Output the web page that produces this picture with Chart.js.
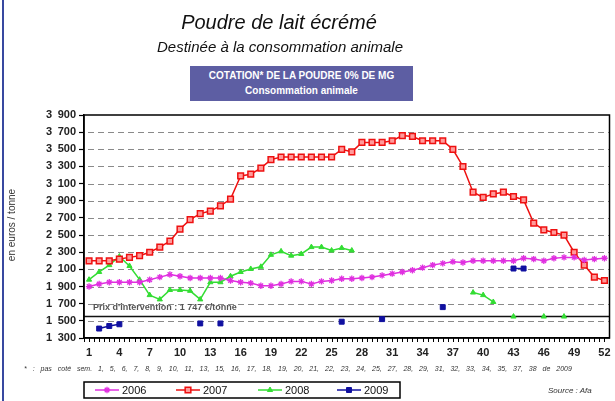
<!DOCTYPE html>
<html><head><meta charset="utf-8">
<script src="https://cdn.jsdelivr.net/npm/chart.js@4.4.1/dist/chart.umd.min.js"></script>
<style>
html,body{margin:0;padding:0;background:#fff;width:615px;height:401px;overflow:hidden;font-family:"Liberation Sans",Arial,sans-serif;}
#wrap{position:relative;width:615px;height:401px;}
#c{position:absolute;left:0;top:0;}
.t{position:absolute;white-space:nowrap;color:#111;}
#lb{position:absolute;left:2px;top:0;width:2px;height:401px;background:#3848a0;}
#box{position:absolute;left:190px;top:66px;width:223px;height:35px;background:#5d5ea3;color:#fff;font:bold 10px "Liberation Sans",Arial,sans-serif;text-align:center;line-height:15px;padding-top:2px;box-sizing:border-box;}
</style></head><body>
<div id="wrap">
<div id="lb"></div>
<canvas id="c" width="615" height="401"></canvas>
<div class="t" style="left:0;width:558px;text-align:center;top:10px;font:italic 20px 'Liberation Sans',Arial,sans-serif;line-height:24px;">Poudre de lait écrémé</div>
<div class="t" style="left:0;width:560px;text-align:center;top:38px;font:italic 15px 'Liberation Sans',Arial,sans-serif;line-height:18px;">Destinée à la consommation animale</div>
<div id="box">COTATION* DE LA POUDRE 0% DE MG<br>Consommation animale</div>
<div class="t" style="left:-68px;top:219px;width:160px;text-align:center;transform:rotate(-90deg);font:10px 'Liberation Sans',Arial,sans-serif;line-height:12px;color:#333;">en euros / tonne</div>
<div class="t" style="left:24px;top:364px;font:italic 7px 'Liberation Sans',Arial,sans-serif;line-height:9px;word-spacing:4px;color:#333;">* : pas coté sem. 1, 5, 6, 7, 8, 9, 10, 11, 13, 15, 16, 17, 18, 19, 20, 21, 22, 23, 24, 25, 27, 28, 29, 31, 32, 33, 34, 35, 37, 38 de 2009</div>
<div class="t" style="left:548px;top:386px;font:italic 8px 'Liberation Sans',Arial,sans-serif;line-height:10px;color:#333;">Source : Afa</div>
</div>
<script>
const weeks = [1,2,3,4,5,6,7,8,9,10,11,12,13,14,15,16,17,18,19,20,21,22,23,24,25,26,27,28,29,30,31,32,33,34,35,36,37,38,39,40,41,42,43,44,45,46,47,48,49,50,51,52];
const shownWeeks = [1,4,7,10,13,16,19,22,25,28,31,34,37,40,43,46,49,52];
const y2006 = [1900,1930,1950,1950,1950,1950,1980,2010,2040,2020,2000,2000,2000,2000,1970,1950,1940,1910,1910,1930,1960,1960,1930,1960,1970,1990,1990,2000,2010,2030,2050,2070,2090,2120,2150,2170,2190,2180,2200,2200,2200,2200,2200,2230,2220,2200,2230,2240,2240,2210,2220,2230];
const y2007 = [2200,2200,2200,2220,2240,2260,2300,2360,2430,2570,2680,2750,2780,2840,2920,3190,3210,3280,3380,3410,3410,3410,3410,3410,3410,3500,3470,3580,3580,3580,3600,3660,3650,3600,3600,3600,3500,3300,3000,2940,2980,3000,2950,2910,2640,2560,2530,2500,2300,2150,2010,1970];
const y2008 = [1980,2070,2150,2250,2140,1980,1800,1750,1860,1860,1850,1750,1950,1950,2020,2070,2105,2130,2270,2310,2260,2280,2360,2360,2320,2350,2320,null,null,null,null,null,null,null,null,null,null,null,1830,1800,1720,null,1550,null,null,1550,null,1550,null,null,null,null];
const y2009 = [null,1410,1440,1460,null,null,null,null,null,null,null,1470,null,1470,null,null,null,null,null,null,null,null,null,null,null,1490,null,null,null,1520,null,null,null,null,null,1660,null,null,null,null,null,null,2110,2110,null,null,null,null,null,null,null,null];
const seriesNames = ['2006','2007','2008','2009'];
const yTicks = {min:1300, max:3900, step:200};
const interventionLevel = 1550;
const interventionText = "Prix d'intervention : 1 747 €/tonne";

const FONT = "'Liberation Sans', Arial, sans-serif";
Chart.defaults.font.family = FONT;

const styles = [
  {color:'#e030e0', bg:'#e030e0', ps:'star', r:3.2, bw:1.3, lw:1.5},
  {color:'#ee1010', bg:'#ff9a9a', ps:'rect', r:4, bw:1.5, lw:1.5},
  {color:'#33dd33', bg:'#33dd33', ps:'triangle', r:3, bw:1, lw:1.5},
  {color:'#1010a0', bg:'#1010a0', ps:'rect', r:3.5, bw:1, lw:1.5}
];
const series = [y2006, y2007, y2008, y2009];

function drawMarker(ctx, st, x, y){
  ctx.save();
  ctx.strokeStyle = st.color; ctx.fillStyle = st.bg; ctx.lineWidth = st.bw;
  if (Chart.helpers && Chart.helpers.drawPoint) {
    Chart.helpers.drawPoint(ctx, {pointStyle: st.ps, radius: st.r, borderWidth: st.bw, rotation: 0}, x, y);
  }
  ctx.restore();
}

const deco = {
  id: 'deco',
  beforeDatasetsDraw(chart){
    const ctx = chart.ctx, a = chart.chartArea, ys = chart.scales.y;
    ctx.save();
    // dashed horizontal grid
    ctx.strokeStyle = '#8a8a8a'; ctx.lineWidth = 1; ctx.setLineDash([6,4]);
    ctx.beginPath();
    ys.ticks.forEach(t => {
      if (t.value <= yTicks.min || t.value >= yTicks.max) return;
      const py = Math.round(ys.getPixelForValue(t.value)) + 0.5;
      ctx.moveTo(a.left + 4, py); ctx.lineTo(a.right, py);
    });
    ctx.stroke();
    ctx.setLineDash([]);
    const yy = ys.getPixelForValue(interventionLevel);
    ctx.strokeStyle = '#111'; ctx.lineWidth = 1.5;
    ctx.beginPath(); ctx.moveTo(a.left, yy); ctx.lineTo(a.right, yy); ctx.stroke();
    ctx.font = 'bold 9px ' + FONT; ctx.fillStyle = '#555';
    ctx.textBaseline = 'middle'; ctx.textAlign = 'left';
    ctx.fillText(interventionText, a.left + 9, yy - 9);
    ctx.restore();
  },
  afterDraw(chart){
    const ctx = chart.ctx, a = chart.chartArea, xs = chart.scales.x;
    ctx.save();
    ctx.strokeStyle = '#000'; ctx.lineWidth = 1.5;
    ctx.strokeRect(a.left, a.top, a.right - a.left, a.bottom - a.top);
    // x tick marks (category centres and boundaries)
    const half = (xs.getPixelForValue(1) - xs.getPixelForValue(0)) / 2;
    ctx.lineWidth = 1;
    ctx.beginPath();
    for (let i = 0; i < weeks.length; i++) {
      const c = xs.getPixelForValue(i);
      [c - half, c].forEach(px => { ctx.moveTo(Math.round(px)+0.5, a.bottom); ctx.lineTo(Math.round(px)+0.5, a.bottom + 4); });
    }
    ctx.stroke();
    // legend
    const L = {x:84, y:382, w:316, h:16};
    ctx.lineWidth = 1.5; ctx.strokeStyle = '#000';
    ctx.strokeRect(L.x, L.y, L.w, L.h);
    const starts = [95, 176, 258, 337];
    const cy = L.y + L.h/2;
    ctx.font = '11px ' + FONT; ctx.textBaseline = 'middle'; ctx.textAlign = 'left';
    seriesNames.forEach((n, i) => {
      const st = styles[i], x0 = starts[i];
      ctx.strokeStyle = st.color; ctx.lineWidth = 1.5;
      ctx.beginPath(); ctx.moveTo(x0, cy); ctx.lineTo(x0 + 24, cy); ctx.stroke();
      drawMarker(ctx, st, x0 + 12, cy);
      ctx.fillStyle = '#111';
      ctx.fillText(n, x0 + 27, cy + 0.5);
    });
    ctx.restore();
  }
};

new Chart(document.getElementById('c'), {
  type: 'line',
  data: {
    labels: weeks,
    datasets: series.map((d, i) => ({
      label: seriesNames[i], data: d,
      borderColor: styles[i].color, backgroundColor: styles[i].bg,
      borderWidth: styles[i].lw, pointStyle: styles[i].ps, pointRadius: styles[i].r,
      pointBorderWidth: styles[i].bw, pointBorderColor: styles[i].color, pointBackgroundColor: styles[i].bg,
      tension: 0, spanGaps: false, fill: false
    }))
  },
  options: {
    responsive: false, animation: false, devicePixelRatio: 1,
    layout: {padding: {top: 115, left: 0, right: 3, bottom: 0}},
    plugins: {legend: {display: false}, tooltip: {enabled: false}, title: {display: false}},
    scales: {
      x: {
        type: 'category', offset: true,
        grid: {display: true, drawOnChartArea: false, drawTicks: false},
        border: {display: true, color: '#000', width: 1.5},
        ticks: {autoSkip: false, maxRotation: 0, minRotation: 0, padding: 8, color: '#222',
          font: {size: 11, weight: 'bold'},
          callback: function(v, idx){ const w = weeks[idx]; return shownWeeks.includes(w) ? String(w) : ''; }},
        afterFit(s){ s.height = 63; s.paddingLeft = 0; s.paddingRight = 0; }
      },
      y: {
        min: yTicks.min, max: yTicks.max,
        grid: {drawOnChartArea: false, tickLength: 5, tickColor: '#000', tickWidth: 1.2},
        border: {display: true, color: '#000', width: 1.5},
        ticks: {stepSize: yTicks.step, padding: 3, color: '#222', font: {size: 11, weight: 'bold'},
          callback: v => Math.floor(v/1000) + '\u2002' + String(v % 1000).padStart(3, '0')},
        afterFit(s){ s.width = 84; s.paddingTop = 0; s.paddingBottom = 0; }
      }
    }
  },
  plugins: [deco]
});
</script>
</body></html>
